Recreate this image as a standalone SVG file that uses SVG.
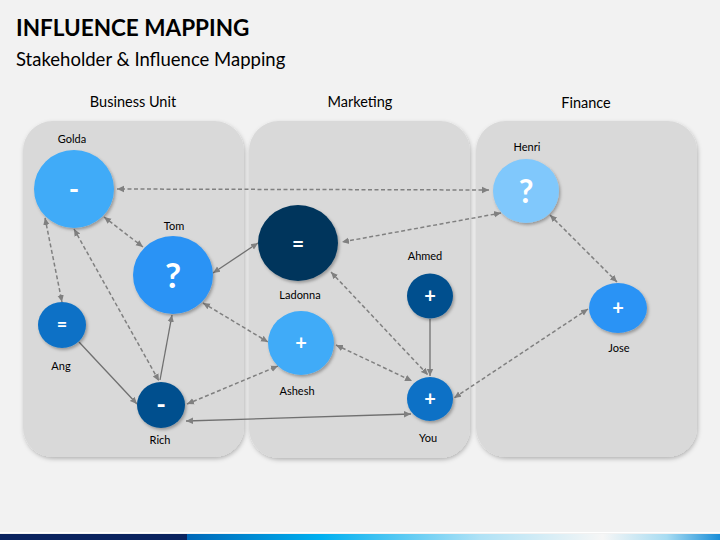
<svg xmlns="http://www.w3.org/2000/svg" width="720" height="540" viewBox="0 0 720 540">
<style>
.t{font-family:Lato,"Open Sans","Liberation Sans",sans-serif;fill:#000}
.lbl{font-size:11px;text-anchor:middle}
.hdr{font-size:14.5px;text-anchor:middle}
.sym{font-family:Lato,"Open Sans","Liberation Sans",sans-serif;fill:#fff;font-weight:bold;text-anchor:middle}
.panel{fill:#d9d9d9;filter:url(#ps)}
.node{filter:url(#ns)}
.d{stroke:#808080;stroke-width:1.5;fill:none;stroke-dasharray:4 2.5;marker-start:url(#as);marker-end:url(#ae)}
.s{stroke:#707070;stroke-width:1.3;fill:none;marker-end:url(#ae)}
.s2{marker-start:url(#as)}
</style>
<defs>
<filter id="ps" x="-10%" y="-10%" width="120%" height="120%"><feDropShadow dx="1" dy="2" stdDeviation="2" flood-color="#000" flood-opacity="0.25"/></filter>
<filter id="ns" x="-20%" y="-20%" width="140%" height="140%"><feDropShadow dx="1.5" dy="2" stdDeviation="1.5" flood-color="#000" flood-opacity="0.3"/></filter>
<marker id="ae" markerWidth="8" markerHeight="8" refX="7" refY="4" orient="auto" markerUnits="userSpaceOnUse"><path d="M0,0.8 L7,4 L0,7.2 z" fill="#808080"/></marker>
<marker id="as" markerWidth="8" markerHeight="8" refX="1" refY="4" orient="auto" markerUnits="userSpaceOnUse"><path d="M8,0.8 L1,4 L8,7.2 z" fill="#808080"/></marker>
<linearGradient id="bar" x1="187" y1="0" x2="720" y2="0" gradientUnits="userSpaceOnUse">
<stop offset="0" stop-color="#0068b8"/>
<stop offset="0.25" stop-color="#00b0f0"/>
<stop offset="0.55" stop-color="#b0e2f6"/>
<stop offset="0.78" stop-color="#f6f6f6"/>
<stop offset="0.9" stop-color="#a8dcf2"/>
<stop offset="1" stop-color="#1a8ed8"/>
</linearGradient>
</defs>
<rect width="720" height="540" fill="#f2f2f2"/>
<text class="t" x="16" y="36" font-size="22.5" font-weight="bold">INFLUENCE MAPPING</text>
<text class="t" x="16" y="66" font-size="18.5">Stakeholder &amp; Influence Mapping</text>

<g id="panels">
<g id="panel-business"><rect class="panel" x="23" y="121" width="221" height="336" rx="30"/><text class="t hdr" x="133" y="107">Business Unit</text></g>
<g id="panel-marketing"><rect class="panel" x="249" y="121" width="221" height="337" rx="30"/><text class="t hdr" x="360" y="107">Marketing</text></g>
<g id="panel-finance"><rect class="panel" x="476" y="121" width="221" height="336" rx="30"/><text class="t hdr" x="586" y="108">Finance</text></g>
</g>

<g id="connectors">
<line class="d" x1="489" y1="190" x2="117" y2="189"/>
<line class="d" x1="501" y1="213" x2="342" y2="242"/>
<line class="d" x1="550" y1="215" x2="617" y2="282"/>
<line class="d" x1="588" y1="309" x2="454" y2="398"/>
<line class="d" x1="104" y1="217" x2="143" y2="247"/>
<line class="d" x1="45" y1="218" x2="62" y2="302"/>
<line class="d" x1="74" y1="229" x2="159" y2="381"/>
<line class="d" x1="203" y1="303" x2="268" y2="342"/>
<line class="d" x1="187" y1="404" x2="278" y2="366"/>
<line class="d" x1="331" y1="272" x2="428" y2="375"/>
<line class="d" x1="336" y1="345" x2="412" y2="381"/>
<line class="s" x1="79" y1="342" x2="137" y2="404"/>
<line class="s" x1="160" y1="380" x2="172" y2="315"/>
<line class="s s2" x1="213" y1="273" x2="258" y2="243"/>
<line class="s s2" x1="186" y1="421" x2="411" y2="414"/>
<line class="s" x1="430" y1="319" x2="430" y2="376"/>
</g>

<g id="node-golda"><ellipse class="node" cx="74" cy="189" rx="40" ry="39" fill="#3fabf8"/><text class="sym" x="74" y="199" font-size="28">-</text><text class="t lbl" x="72" y="143">Golda</text></g>
<g id="node-tom"><ellipse class="node" cx="173" cy="275" rx="40" ry="39" fill="#2b93f5"/><text class="sym" x="173" y="288" font-size="35">?</text><text class="t lbl" x="174" y="230">Tom</text></g>
<g id="node-ang"><ellipse class="node" cx="62" cy="325" rx="24" ry="23" fill="#0a71c6"/><text class="sym" x="62" y="331" font-size="18">=</text><text class="t lbl" x="61" y="370">Ang</text></g>
<g id="node-rich"><ellipse class="node" cx="161" cy="405" rx="24" ry="23" fill="#03508e"/><text class="sym" x="161" y="414" font-size="26">-</text><text class="t lbl" x="160" y="444">Rich</text></g>
<g id="node-ladonna"><ellipse class="node" cx="298" cy="243" rx="40" ry="38" fill="#05365c"/><text class="sym" x="298" y="251" font-size="21">=</text><text class="t lbl" x="300" y="299">Ladonna</text></g>
<g id="node-ashesh"><ellipse class="node" cx="301" cy="343" rx="33" ry="32" fill="#3fabf8"/><text class="sym" x="301" y="350" font-size="20">+</text><text class="t lbl" x="297" y="395">Ashesh</text></g>
<g id="node-ahmed"><ellipse class="node" cx="430" cy="296" rx="23" ry="22.5" fill="#03508e"/><text class="sym" x="430" y="303" font-size="20">+</text><text class="t lbl" x="425" y="260">Ahmed</text></g>
<g id="node-you"><ellipse class="node" cx="430" cy="399" rx="23" ry="22" fill="#0a71c6"/><text class="sym" x="430" y="406" font-size="20">+</text><text class="t lbl" x="428" y="442">You</text></g>
<g id="node-henri"><ellipse class="node" cx="526" cy="191" rx="33" ry="32" fill="#80c8fc"/><text class="sym" x="526" y="203" font-size="32">?</text><text class="t lbl" x="527" y="151">Henri</text></g>
<g id="node-jose"><ellipse class="node" cx="618" cy="308" rx="29" ry="25" fill="#2b93f5"/><text class="sym" x="618" y="315" font-size="20">+</text><text class="t lbl" x="619" y="352">Jose</text></g>

<rect x="0" y="532" width="720" height="1" fill="#ffffff"/>
<rect x="0" y="534" width="187" height="6" fill="#0b2460"/>
<rect x="187" y="534" width="533" height="6" fill="url(#bar)"/>
</svg>
